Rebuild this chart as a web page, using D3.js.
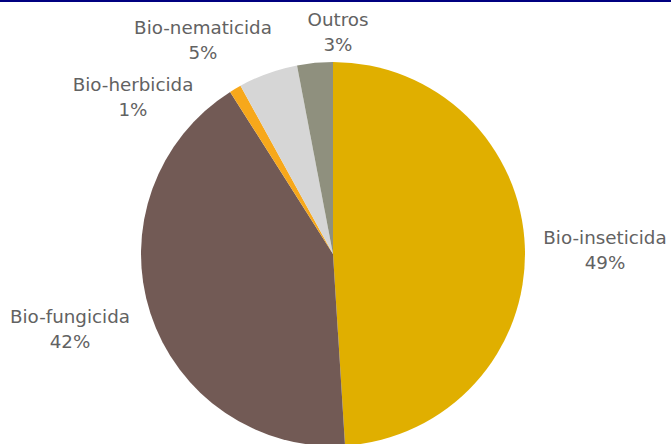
<!DOCTYPE html>
<html>
<head>
<meta charset="utf-8">
<script src="https://cdn.jsdelivr.net/npm/d3@7"></script>
<style>
  body { margin: 0; background: #fff; }
  svg { display: block; }
</style>
</head>
<body>
<div id="chart"></div>
<script>
// Pie chart of biodefensivos by type
const categories = ["Bio-inseticida", "Bio-fungicida", "Bio-herbicida", "Bio-nematicida", "Outros"];
const shares = [49, 42, 1, 5, 3];
const labels = ["49%", "42%", "1%", "5%", "3%"];
const colors = ["#e0af00", "#725a55", "#f7a81b", "#d6d6d6", "#8f907e"];

// label anchor points (center of first line)
const labelPos = [[605, 237], [70, 316], [133, 84], [203, 27], [338, 19]];

function drawPie() {
    const width = 671, height = 444;
    const cx = 333, cy = 254, radius = 192;

    const svg = d3.select("#chart")
        .append("svg")
        .attr("width", width)
        .attr("height", height);

    // top border line
    svg.append("rect")
        .attr("x", 0).attr("y", 0)
        .attr("width", width).attr("height", 2)
        .attr("fill", "#000080");

    const pie = d3.pie().sort(null).value(d => d);
    const arc = d3.arc().innerRadius(0).outerRadius(radius);

    const g = svg.append("g").attr("transform", `translate(${cx},${cy})`);
    g.selectAll("path")
        .data(pie(shares))
        .join("path")
        .attr("d", arc)
        .attr("fill", (d, i) => colors[i]);

    const text = svg.append("g")
        .attr("font-family", "Verdana, 'DejaVu Sans', sans-serif")
        .attr("font-size", 18.3)
        .attr("fill", "#626262")
        .attr("text-anchor", "middle");

    categories.forEach((c, i) => {
        const t = text.append("text")
            .attr("x", labelPos[i][0])
            .attr("y", labelPos[i][1])
            .attr("dominant-baseline", "central");
        t.append("tspan").attr("x", labelPos[i][0]).text(c);
        t.append("tspan").attr("x", labelPos[i][0]).attr("dy", 25).text(labels[i]);
    });
}

drawPie();
</script>
</body>
</html>
